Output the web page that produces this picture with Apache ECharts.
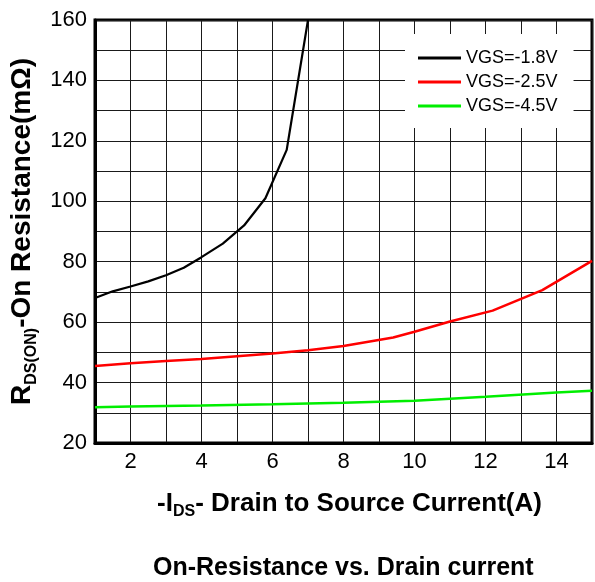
<!DOCTYPE html>
<html>
<head>
<meta charset="utf-8">
<script src="https://cdn.jsdelivr.net/npm/echarts@6.0.0/dist/echarts.min.js"></script>
<style>
  * { margin: 0; padding: 0; }
  body { background: #ffffff; }
  #chart { width: 595px; height: 582px; }
</style>
</head>
<body>
<div id="chart"></div>
<script>
// 读图得到的数据点
var seriesNames = ['VGS=-1.8V', 'VGS=-2.5V', 'VGS=-4.5V'];

var x18 = [1, 1.5, 2, 2.5, 3, 3.5, 4, 4.6, 5.2, 5.8, 6.4, 7];
var y18 = [68, 70.2, 71.8, 73.5, 75.5, 78, 81.5, 86, 92, 101, 117, 160];

var x25 = [1, 2, 3, 4, 5, 6, 7, 8, 9.4, 10, 11, 12.2, 13.6, 15];
var y25 = [45.5, 46.4, 47.1, 47.8, 48.7, 49.6, 50.7, 52.1, 54.9, 56.8, 60.2, 63.8, 70.6, 80.3];

var x45 = [1, 2, 4, 6, 8, 10, 12, 14, 15];
var y45 = [31.8, 32.1, 32.4, 32.8, 33.3, 34.0, 35.3, 36.7, 37.3];

var lineColors = ['#000000', '#ff0000', '#00ee00'];

var FONT = "'Liberation Sans', Arial, sans-serif";

var pairs = function (xs, ys) {
  return xs.map(function (x, i) { return [x, ys[i]]; });
};

var chart = echarts.init(document.getElementById('chart'));

var makeSeries = function (name, xs, ys, color, width) {
  return {
    name: name,
    type: 'line',
    data: pairs(xs, ys),
    symbol: 'none',
    smooth: false,
    clip: true,
    lineStyle: { color: color, width: width },
    itemStyle: { color: color }
  };
};

var option = {
  backgroundColor: '#ffffff',
  animation: false,
  title: {
    text: 'On-Resistance vs. Drain current',
    left: 153,
    top: 556,
    padding: 0,
    textStyle: { fontFamily: FONT, fontSize: 25, fontWeight: 'bold', color: '#000' }
  },
  legend: {
    orient: 'vertical',
    left: 405,
    top: 34,
    backgroundColor: '#ffffff',
    padding: [15, 16, 13, 13],
    icon: 'path://M0,0 H43 V3 H0 Z',
    itemWidth: 43,
    itemHeight: 3,
    itemGap: 6,
    data: seriesNames,
    textStyle: { fontFamily: FONT, fontSize: 18, color: '#000', lineHeight: 18 }
  },
  grid: {
    left: 95,
    right: 1,
    top: 20,
    bottom: 139,
    show: true,
    borderColor: '#000',
    borderWidth: 3
  },
  xAxis: {
    type: 'value',
    min: 1,
    max: 15,
    interval: 1,
    name: '{b|-I}{s|DS}{b|- Drain to Source Current(A)}',
    nameLocation: 'middle',
    nameGap: 45,
    nameTextStyle: {
      padding: [0, 0, 0, 12],
      rich: {
        b: { fontFamily: FONT, fontSize: 26, fontWeight: 'bold', color: '#000' },
        s: { fontFamily: FONT, fontSize: 16, fontWeight: 'bold', color: '#000', padding: [16, 0, 0, 0] }
      }
    },
    axisLine: { show: true, lineStyle: { color: '#000', width: 3 } },
    axisTick: { show: false },
    axisLabel: {
      margin: 8,
      fontFamily: FONT,
      fontSize: 22,
      color: '#000',
      formatter: function (v) { return v % 2 === 0 ? String(v) : ''; }
    },
    splitLine: { show: true, lineStyle: { color: '#1a1a1a', width: 1 } }
  },
  yAxis: {
    type: 'value',
    min: 20,
    max: 160,
    interval: 10,
    name: '{b|R}{s|DS(ON)}{b|-On Resistance(mΩ)}',
    nameLocation: 'middle',
    nameGap: 52,
    nameTextStyle: {
      rich: {
        b: { fontFamily: FONT, fontSize: 28, fontWeight: 'bold', color: '#000' },
        s: { fontFamily: FONT, fontSize: 16, fontWeight: 'bold', color: '#000', padding: [18, 0, 0, 0] }
      }
    },
    axisLine: { show: true, lineStyle: { color: '#000', width: 3 } },
    axisTick: { show: false },
    axisLabel: {
      margin: 8,
      fontFamily: FONT,
      fontSize: 22,
      color: '#000',
      formatter: function (v) { return v % 20 === 0 ? String(v) : ''; }
    },
    splitLine: { show: true, lineStyle: { color: '#1a1a1a', width: 1 } }
  },
  series: [
    makeSeries(seriesNames[0], x18, y18, lineColors[0], 2.2),
    makeSeries(seriesNames[1], x25, y25, lineColors[1], 2.5),
    makeSeries(seriesNames[2], x45, y45, lineColors[2], 2.5)
  ]
};

chart.setOption(option);
</script>
</body>
</html>
